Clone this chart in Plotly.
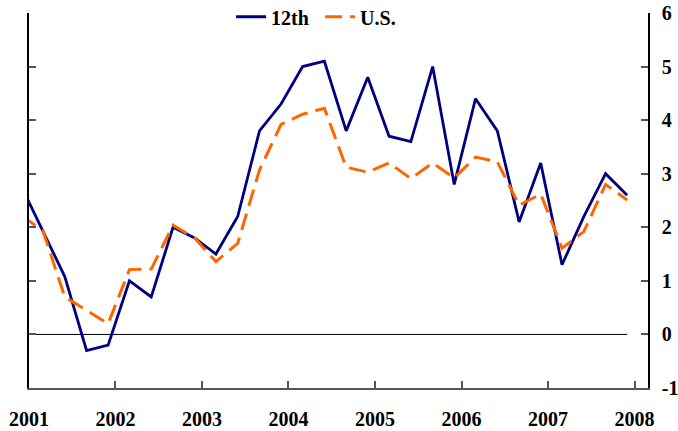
import plotly.graph_objects as go

dates = ["2000-12-01",
         "2001-03-01", "2001-06-01", "2001-09-01", "2001-12-01",
         "2002-03-01", "2002-06-01", "2002-09-01", "2002-12-01",
         "2003-03-01", "2003-06-01", "2003-09-01", "2003-12-01",
         "2004-03-01", "2004-06-01", "2004-09-01", "2004-12-01",
         "2005-03-01", "2005-06-01", "2005-09-01", "2005-12-01",
         "2006-03-01", "2006-06-01", "2006-09-01", "2006-12-01",
         "2007-03-01", "2007-06-01", "2007-09-01", "2007-12-01"]

twelfth = [2.75,
           1.91, 1.08, -0.30, -0.20,
           1.00, 0.70, 2.00, 1.80,
           1.50, 2.20, 3.80, 4.30,
           5.00, 5.10, 3.80, 4.80,
           3.70, 3.60, 5.00, 2.80,
           4.40, 3.80, 2.10, 3.20,
           1.30, 2.20, 3.00, 2.60]

us = [2.22,
      1.93, 0.70, 0.45, 0.20,
      1.21, 1.22, 2.04, 1.80,
      1.36, 1.70, 3.07, 3.92,
      4.11, 4.22, 3.12, 3.03,
      3.20, 2.91, 3.20, 2.92,
      3.31, 3.22, 2.41, 2.62,
      1.61, 1.92, 2.80, 2.51]

zero = [0] * len(dates)

y_tickvals = [-1, 0, 1, 2, 3, 4, 5, 6]
y_ticktext = ["-1", "0", "1", "2", "3", "4", "5", "6"]

font_family = "Liberation Serif, Times New Roman, serif"

fig = go.Figure()
fig.add_trace(go.Scatter(x=dates, y=zero, mode="lines",
                         line=dict(color="black", width=1),
                         showlegend=False, hoverinfo="skip"))
fig.add_trace(go.Scatter(x=dates, y=twelfth, mode="lines", name="12th",
                         line=dict(color="#000080", width=2.8)))
fig.add_trace(go.Scatter(x=dates, y=us, mode="lines", name="U.S.",
                         line=dict(color="#FF6600", width=3, dash="17px,8px")))

fig.update_layout(
    width=678, height=431,
    margin=dict(l=29, r=30, t=13, b=43, autoexpand=False),
    paper_bgcolor="white", plot_bgcolor="white",
    font=dict(family=font_family, size=20, color="black", weight="bold"),
    legend=dict(orientation="h", x=0.3265, xanchor="left", y=0.99, yanchor="middle",
                font=dict(size=20, family=font_family, weight="bold"),
                bgcolor="rgba(0,0,0,0)", entrywidth=44, entrywidthmode="pixels"),
    xaxis=dict(type="date", range=["2001-01-01", "2008-02-27"],
               tick0="2001-01-01", dtick="M12", tickformat="%Y",
               showgrid=False, zeroline=False,
               showline=True, linecolor="#555555", linewidth=1.5,
               ticks="inside", ticklen=7, tickcolor="#555555", tickwidth=1.5,
               ticklabelstandoff=12, ticklabeloverflow="allow",
               tickfont=dict(size=20, family=font_family, weight="bold")),
    yaxis=dict(range=[-1, 6], tickvals=y_tickvals, ticktext=y_ticktext, side="right",
               showgrid=False, zeroline=False,
               showline=True, linecolor="black", linewidth=1.5, mirror="ticks",
               ticks="inside", ticklen=7, tickcolor="#555555", tickwidth=1.5,
               ticklabelstandoff=8, ticklabeloverflow="allow",
               tickfont=dict(size=20, family=font_family, weight="bold")),
)

# remove the default 8px page margin so the 678x431 figure fills the window
fig.write_html("out.html",
               config={"displayModeBar": False},
               post_script="document.body.style.margin='0';document.body.style.overflow='hidden';")
